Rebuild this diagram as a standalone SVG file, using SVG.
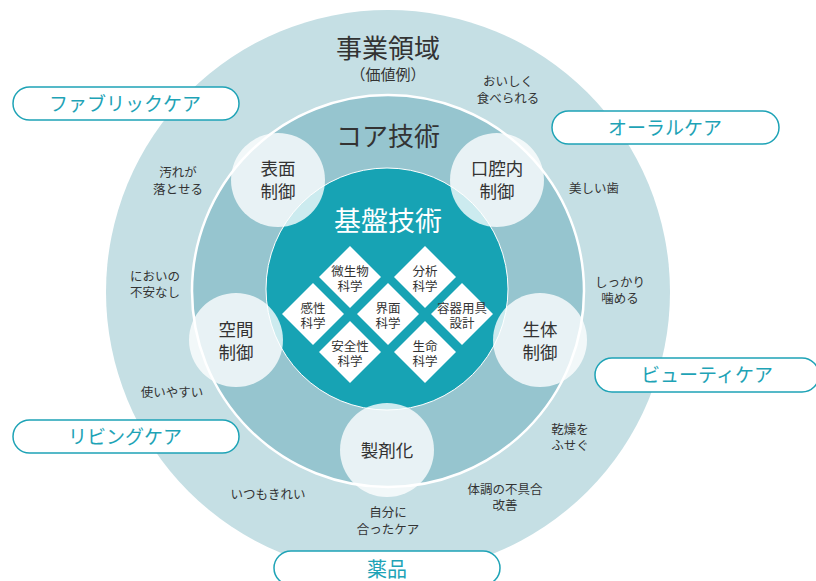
<svg xmlns="http://www.w3.org/2000/svg" width="816" height="581" viewBox="0 0 816 581">
<style>
text{font-family:"Noto Sans CJK JP","Noto Sans",sans-serif;text-anchor:middle;fill:#333}
.lbl{font-size:12.5px}
.node{font-size:17.5px}
.dia{font-size:12.5px}
.pilltx{font-size:19px;fill:#1ea3b6}
.pill{fill:#fff;stroke:#1ea3b6;stroke-width:1.5}
.sc{fill:#fff;fill-opacity:0.78}
.dm{fill:#fff}
</style>
<g id="rings">
<circle cx="388" cy="292" r="282" fill="#c5dfe4"/>
<circle cx="388" cy="291" r="196" fill="#96c5cf" stroke="#fff" stroke-width="2.5"/>
<circle cx="387" cy="289" r="121" fill="#17a3b4" stroke="#fff" stroke-width="1"/>
</g>
<g id="titles">
<text x="388" y="58" style="font-size:26px">事業領域</text>
<text x="388" y="80" style="font-size:15px">（価値例）</text>
<text x="388" y="146" style="font-size:26px">コア技術</text>
<text x="388" y="231" style="font-size:27px;fill:#fff">基盤技術</text>
</g>
<g id="node-hyomen"><circle class="sc" cx="278" cy="180" r="47"/><text class="node" x="278" y="175">表面</text><text class="node" x="278" y="198">制御</text></g>
<g id="node-kokunai"><circle class="sc" cx="497" cy="180" r="47"/><text class="node" x="497" y="175">口腔内</text><text class="node" x="497" y="198">制御</text></g>
<g id="node-kukan"><circle class="sc" cx="236" cy="340" r="47"/><text class="node" x="236" y="336">空間</text><text class="node" x="236" y="359">制御</text></g>
<g id="node-seitai"><circle class="sc" cx="540" cy="340" r="47"/><text class="node" x="540" y="336">生体</text><text class="node" x="540" y="359">制御</text></g>
<g id="node-seizai"><circle class="sc" cx="387" cy="450" r="47"/><text class="node" x="387" y="457">製剤化</text></g>
<g id="dia-biseibutsu"><path class="dm" d="M350 246 L381 277 L350 308 L319 277Z"/><text class="dia" x="350" y="276">微生物</text><text class="dia" x="350" y="291">科学</text></g>
<g id="dia-bunseki"><path class="dm" d="M425 246 L456 277 L425 308 L394 277Z"/><text class="dia" x="425" y="276">分析</text><text class="dia" x="425" y="291">科学</text></g>
<g id="dia-kansei"><path class="dm" d="M313 283 L344 314 L313 345 L282 314Z"/><text class="dia" x="313" y="313">感性</text><text class="dia" x="313" y="328">科学</text></g>
<g id="dia-kaimen"><path class="dm" d="M388 283 L419 314 L388 345 L357 314Z"/><text class="dia" x="388" y="313">界面</text><text class="dia" x="388" y="328">科学</text></g>
<g id="dia-yoki"><path class="dm" d="M462 283 L493 314 L462 345 L431 314Z"/><text class="dia" x="462" y="313">容器用具</text><text class="dia" x="462" y="328">設計</text></g>
<g id="dia-anzen"><path class="dm" d="M350 321 L381 352 L350 383 L319 352Z"/><text class="dia" x="350" y="351">安全性</text><text class="dia" x="350" y="366">科学</text></g>
<g id="dia-seimei"><path class="dm" d="M425 321 L456 352 L425 383 L394 352Z"/><text class="dia" x="425" y="351">生命</text><text class="dia" x="425" y="366">科学</text></g>
<g id="values">
<text class="lbl" x="508" y="86">おいしく</text><text class="lbl" x="508" y="103">食べられる</text>
<text class="lbl" x="594" y="193">美しい歯</text>
<text class="lbl" x="620" y="287">しっかり</text><text class="lbl" x="620" y="303">噛める</text>
<text class="lbl" x="178" y="177">汚れが</text><text class="lbl" x="178" y="194">落とせる</text>
<text class="lbl" x="155" y="281">においの</text><text class="lbl" x="155" y="297">不安なし</text>
<text class="lbl" x="172" y="397">使いやすい</text>
<text class="lbl" x="268" y="499">いつもきれい</text>
<text class="lbl" x="388" y="517">自分に</text><text class="lbl" x="388" y="534">合ったケア</text>
<text class="lbl" x="505" y="494">体調の不具合</text><text class="lbl" x="505" y="510">改善</text>
<text class="lbl" x="570" y="434">乾燥を</text><text class="lbl" x="570" y="450">ふせぐ</text>
</g>
<g id="pill-fabric"><rect class="pill" x="13" y="87" width="226" height="33" rx="16.5"/><text class="pilltx" x="125" y="111">ファブリックケア</text></g>
<g id="pill-oral"><rect class="pill" x="552" y="111" width="227" height="33" rx="16.5"/><text class="pilltx" x="665" y="135">オーラルケア</text></g>
<g id="pill-beauty"><rect class="pill" x="595" y="358" width="224" height="34" rx="17"/><text class="pilltx" x="707" y="382">ビューティケア</text></g>
<g id="pill-living"><rect class="pill" x="13" y="420" width="226" height="33" rx="16.5"/><text class="pilltx" x="125" y="444">リビングケア</text></g>
<g id="pill-yakuhin"><rect class="pill" x="274" y="551" width="226" height="34" rx="17"/><text class="pilltx" x="387" y="577" style="font-size:20px">薬品</text></g>
<g id="connectors"></g>
</svg>
